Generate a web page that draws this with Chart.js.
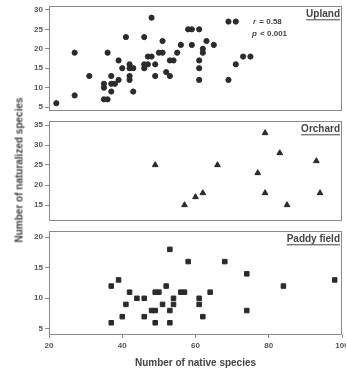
<!DOCTYPE html>
<html>
<head>
<meta charset="utf-8">
<script src="https://cdn.jsdelivr.net/npm/chart.js@4/dist/chart.umd.min.js"></script>
<style>
  html, body { margin: 0; padding: 0; background: #fff; overflow: hidden; }
  #wrap { position: relative; width: 346px; height: 370px; overflow: hidden; }
  canvas { position: absolute; left: 0; }
  #ytitle {
    position: absolute; left: 19px; top: 170px;
    transform: translate(-50%, -50%) rotate(-90deg);
    font: bold 10px "Liberation Sans", Arial, sans-serif;
    color: #444; white-space: nowrap;
  }
</style>
</head>
<body>
<div id="wrap">
  <canvas id="upland" width="352" height="116" style="top:0px"></canvas>
  <canvas id="orchard" width="352" height="110" style="top:116px"></canvas>
  <canvas id="paddy" width="352" height="144" style="top:226px"></canvas>
  <div id="ytitle">Number of naturalized species</div>
</div>
<script>
// Upland (circles)
const uplandNative = [22, 27, 27, 31, 35, 35, 35, 36, 36, 37, 37, 38, 37, 39, 39, 40, 41, 42, 42, 42, 42, 43, 43,
  46, 46, 46, 47, 47, 48, 48, 49, 49, 50, 51, 51, 52, 53, 53, 54, 55, 56, 58, 59, 59, 61, 61, 61, 61,
  62, 62, 63, 65, 69, 71, 69, 71, 73, 75];
const uplandNaturalized = [6, 19, 8, 13, 11, 10, 7, 7, 19, 13, 11, 11, 9, 12, 17, 15, 23, 16, 15, 13, 12, 15, 9,
  23, 15, 16, 16, 18, 18, 28, 16, 13, 19, 19, 22, 14, 13, 17, 17, 19, 21, 25, 25, 21, 25, 17, 15, 12,
  20, 19, 22, 21, 27, 27, 12, 16, 18, 18];

// Orchard (triangles)
const orchardNative = [49, 57, 60, 62, 66, 77, 79, 79, 83, 85, 93, 94];
const orchardNaturalized = [25, 15, 17, 18, 25, 23, 33, 18, 28, 15, 26, 18];

// Paddy field (squares)
const paddyNative = [37, 37, 39, 40, 41, 42, 44, 46, 46, 48, 49, 49, 50, 49, 51, 52, 53, 53, 53, 54, 54,
  56, 57, 58, 61, 61, 62, 64, 68, 74, 74, 84, 98];
const paddyNaturalized = [12, 6, 13, 7, 9, 11, 10, 10, 7, 8, 8, 11, 11, 6, 9, 12, 18, 8, 6, 10, 9,
  11, 11, 16, 10, 9, 7, 11, 16, 14, 8, 12, 13];

// tick labels
const xTicks = [20, 40, 60, 80, 100];
const uplandTicks = [5, 10, 15, 20, 25, 30];
const orchardTicks = [15, 20, 25, 30, 35];
const paddyTicks = [5, 10, 15, 20];

const markColor = "#2b2b2b";
const frameColor = "#8a8a8a";
const tickColor = "#555";
const fontFamily = '"Liberation Sans", Arial, sans-serif';

const panelDecor = {
    id: "panelDecor",
    afterDraw(chart, args, opts) {
        const { ctx, chartArea: a } = chart;
        ctx.save();
        ctx.strokeStyle = frameColor;
        ctx.lineWidth = 1;
        ctx.strokeRect(Math.round(a.left) + 0.5, Math.round(a.top) + 0.5,
            Math.round(a.right - a.left) - 1, Math.round(a.bottom - a.top) - 1);

        // panel label, underlined
        ctx.font = "bold 10px " + fontFamily;
        ctx.fillStyle = "#444";
        ctx.textAlign = "right";
        ctx.textBaseline = "middle";
        const lx = a.right - 2, ly = a.top + 8.3;
        ctx.fillText(opts.label, lx, ly);
        const w = ctx.measureText(opts.label).width;
        ctx.strokeStyle = "#444";
        ctx.beginPath();
        ctx.moveTo(lx - w, ly + 5.5);
        ctx.lineTo(lx, ly + 5.5);
        ctx.stroke();

        if (opts.stats) {
            ctx.textAlign = "left";
            ctx.font = "italic bold 8px " + fontFamily;
            let x = a.left + 204;
            ctx.fillText("r", x, a.top + 16);
            ctx.font = "bold 8px " + fontFamily;
            ctx.fillText(" = 0.58", x + ctx.measureText("r").width + 1, a.top + 16);
            ctx.font = "italic bold 8px " + fontFamily;
            ctx.fillText("p", x - 1, a.top + 27.3);
            ctx.font = "bold 8px " + fontFamily;
            ctx.fillText(" < 0.001", x - 1 + ctx.measureText("p").width + 1, a.top + 27.3);
        }
        ctx.restore();
    },
};

function makePanel(id, xs, ys, cfg) {
    const pts = xs.map((x, i) => ({ x: x, y: ys[i] }));
    const xScale = {
        type: "linear",
        display: cfg.showX,
        min: 20,
        max: 100,
        border: { display: false },
        grid: { drawOnChartArea: false, tickLength: 3, color: frameColor },
        afterBuildTicks(scale) { scale.ticks = xTicks.map(v => ({ value: v })); },
        ticks: {
            padding: 3,
            color: tickColor,
            font: { family: fontFamily, size: 8, weight: "bold" },
        },
        title: {
            display: true,
            text: "Number of native species",
            color: "#444",
            padding: { top: 0, bottom: 1 },
            font: { family: fontFamily, size: 10, weight: "bold" },
        },
    };
    if (cfg.showX) {
        xScale.afterFit = (scale) => { scale.height = 35; };
    }
    return new Chart(document.getElementById(id), {
        type: "scatter",
        data: {
            datasets: [{
                data: pts,
                pointStyle: cfg.style,
                pointRadius: cfg.radius,
                backgroundColor: markColor,
                borderColor: markColor,
                borderWidth: 1,
            }],
        },
        options: {
            responsive: false,
            animation: false,
            events: [],
            layout: { padding: { top: cfg.padTop, bottom: cfg.padBottom, left: 0, right: 10 } },
            plugins: {
                legend: { display: false },
                tooltip: { enabled: false },
                panelDecor: { label: cfg.label, stats: cfg.stats },
            },
            scales: {
                x: xScale,
                y: {
                    min: cfg.yMin,
                    max: cfg.yMax,
                    border: { display: false },
                    grid: { drawOnChartArea: false, tickLength: 4, color: frameColor },
                    afterBuildTicks(scale) { scale.ticks = cfg.ticks.map(v => ({ value: v })); },
                    ticks: {
                        padding: 2,
                        color: tickColor,
                        font: { family: fontFamily, size: 8, weight: "bold" },
                    },
                    afterFit(scale) {
                        scale.width = 49;
                        scale.paddingTop = 0;
                        scale.paddingBottom = 0;
                    },
                },
            },
        },
        plugins: [panelDecor],
    });
}

makePanel("upland", uplandNative, uplandNaturalized, {
    style: "circle", radius: 2.6, yMin: 4, yMax: 31, ticks: uplandTicks,
    label: "Upland", stats: true, showX: false, padTop: 6, padBottom: 5,
});
makePanel("orchard", orchardNative, orchardNaturalized, {
    style: "triangle", radius: 3.3, yMin: 11, yMax: 36, ticks: orchardTicks,
    label: "Orchard", stats: false, showX: false, padTop: 2, padBottom: 3,
});
makePanel("paddy", paddyNative, paddyNaturalized, {
    style: "rect", radius: 3.2, yMin: 4, yMax: 21, ticks: paddyTicks,
    label: "Paddy field", stats: false, showX: true, padTop: 4, padBottom: 0,
});
</script>
</body>
</html>
